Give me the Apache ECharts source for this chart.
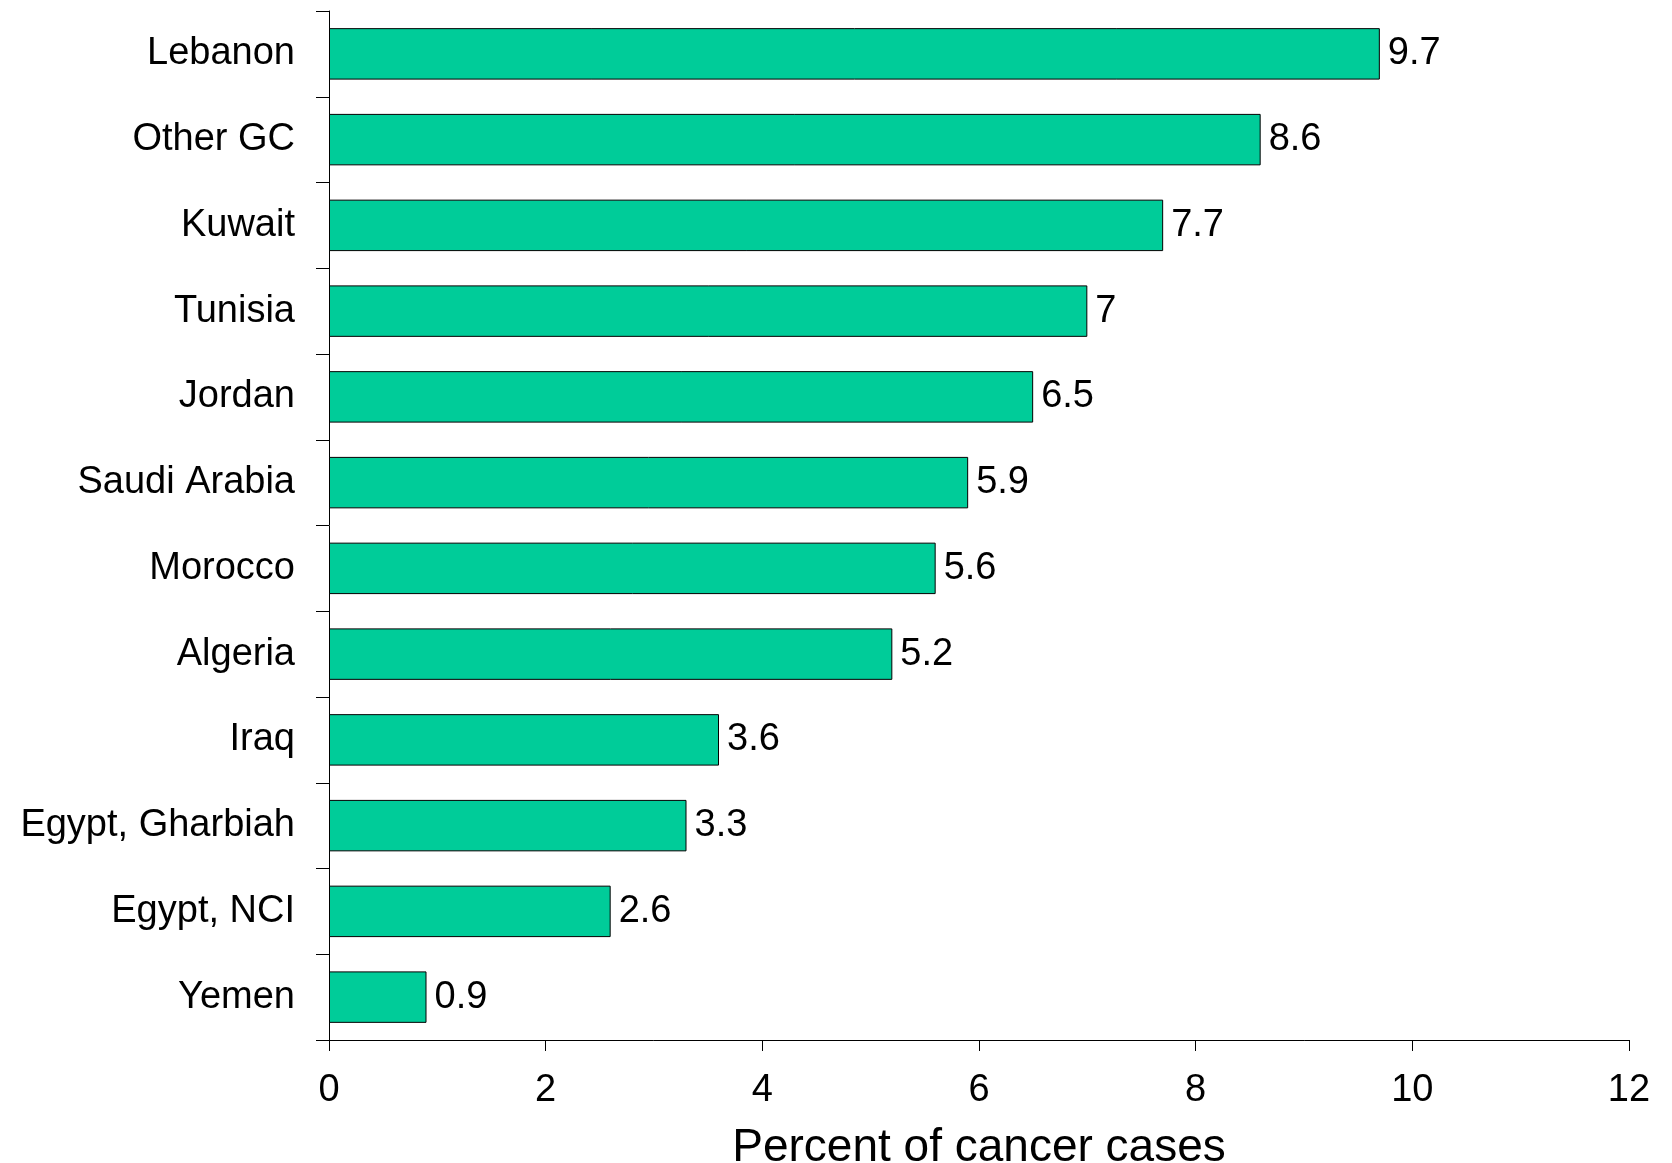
<!DOCTYPE html>
<html>
<head>
<meta charset="utf-8">
<script src="https://cdn.jsdelivr.net/npm/echarts@6/dist/echarts.min.js"></script>
<style>
html,body{margin:0;padding:0;background:#fff;}
#chart{width:1672px;height:1163px;}
</style>
</head>
<body>
<div id="chart"></div>
<script>
const categories = ["Lebanon","Other GC","Kuwait","Tunisia","Jordan","Saudi Arabia","Morocco","Algeria","Iraq","Egypt, Gharbiah","Egypt, NCI","Yemen"];
const values = [9.7, 8.6, 7.7, 7, 6.5, 5.9, 5.6, 5.2, 3.6, 3.3, 2.6, 0.9];
const xTicks = [0, 2, 4, 6, 8, 10, 12];
const xTitle = "Percent of cancer cases";

const FONT = "'Liberation Sans', Arial, sans-serif";
const chart = echarts.init(document.getElementById('chart'), null, {renderer:'canvas'});
chart.setOption({
  backgroundColor: '#ffffff',
  animation: false,
  grid: {left: 329, right: 43, top: 11, bottom: 123, containLabel: false, outerBoundsMode: 'none'},
  xAxis: {
    type: 'value',
    min: xTicks[0],
    max: xTicks[xTicks.length-1],
    interval: xTicks[1]-xTicks[0],
    name: xTitle,
    nameLocation: 'middle',
    nameGap: 85,
    nameTextStyle: {fontFamily: FONT, fontSize: 46, color: '#000'},
    axisLine: {show: true, lineStyle: {color: '#000', width: 1}},
    axisTick: {show: true, inside: false, length: 11, lineStyle: {color: '#000'}},
    axisLabel: {fontFamily: FONT, fontSize: 38, color: '#000', margin: 32},
    splitLine: {show: false}
  },
  yAxis: {
    type: 'category',
    data: categories,
    inverse: true,
    axisLine: {show: true, lineStyle: {color: '#000', width: 1}},
    axisTick: {show: true, inside: false, length: 13, lineStyle: {color: '#000'}},
    axisLabel: {fontFamily: FONT, fontSize: 38, color: '#000', margin: 34},
    splitLine: {show: false}
  },
  series: [{
    type: 'bar',
    data: values,
    barCategoryGap: '40%',
    itemStyle: {color: '#00CC99', borderColor: '#000', borderWidth: 1},
    label: {show: true, position: 'right', distance: 8, fontFamily: FONT, fontSize: 38, color: '#000'}
  }]
});
</script>
</body>
</html>
